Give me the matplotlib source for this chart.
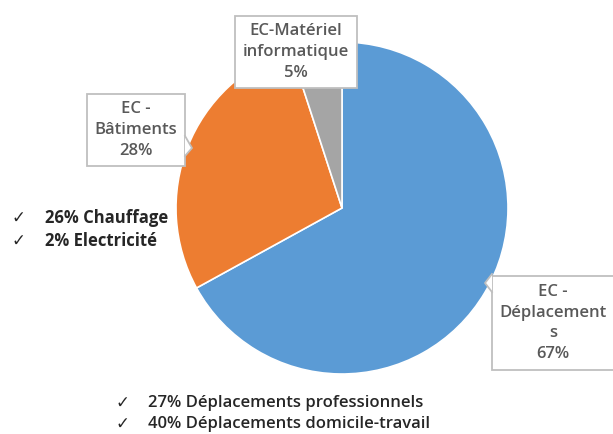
import matplotlib.pyplot as plt
from matplotlib.patches import Polygon
from matplotlib.lines import Line2D

W, H = 613, 434

categories = ["EC - Déplacements", "EC - Bâtiments", "EC-Matériel informatique"]
shares = [67, 28, 5]
colors = ["#5B9BD5", "#ED7D31", "#A5A5A5"]
box_texts = ["EC -\nDéplacement\ns\n67%", "EC -\nBâtiments\n28%", "EC-Matériel\ninformatique\n5%"]
left_notes = ["26% Chauffage", "2% Electricité"]
bottom_notes = ["27% Déplacements professionnels", "40% Déplacements domicile-travail"]

plt.rcParams['font.family'] = ['Open Sans', 'DejaVu Sans']

fig = plt.figure(figsize=(W / 100, H / 100), dpi=100)

# pie centre ~ (342, 208) px, radius ~ 166 px
cx, cy, r = 342, 208, 166
ax = fig.add_axes([(cx - r) / W, (H - cy - r) / H, 2 * r / W, 2 * r / H])
ax.pie(shares, colors=colors, startangle=90, counterclock=False,
       wedgeprops=dict(edgecolor="white", linewidth=1.2))
ax.set_xlim(-1, 1)
ax.set_ylim(-1, 1)
ax.set_aspect("equal")
ax.axis("off")


def px(x, y):
    return x / W, 1 - y / H


box_pos = [(553, 323), (136, 130), (296, 52)]
box_style = dict(boxstyle="square,pad=0.45", facecolor="white", edgecolor="#BFBFBF", linewidth=1.3)
for txt, (x, y) in zip(box_texts, box_pos):
    fig.text(*px(x, y), txt, ha="center", va="center", fontsize=12, color="#595959",
             linespacing=1.4, fontweight="semibold", bbox=box_style, zorder=3)

# little callout pointers on the label boxes
pointers = [[(185, 136), (192, 148), (185, 156)], [(492, 274), (485, 283), (492, 292)]]
for pts in pointers:
    fig.patches.append(Polygon([px(*p) for p in pts], closed=True, facecolor="white",
                               edgecolor="none", transform=fig.transFigure, zorder=4))
    xs, ys = zip(*[px(*p) for p in pts])
    fig.lines.append(Line2D(xs, ys, color="#BFBFBF", linewidth=1.3,
                            transform=fig.transFigure, zorder=5))

for i, note in enumerate(left_notes):
    y = 218 + i * 23
    fig.text(*px(12, y), "\u2713", ha="left", va="center", fontsize=12, family="DejaVu Sans", color="#262626")
    fig.text(*px(45, y), note, ha="left", va="center", fontsize=12, color="#262626", fontweight="bold")

for i, note in enumerate(bottom_notes):
    y = 403 + i * 21
    fig.text(*px(116, y), "\u2713", ha="left", va="center", fontsize=12, family="DejaVu Sans", color="#262626")
    fig.text(*px(148, y), note, ha="left", va="center", fontsize=12, color="#262626", fontweight="semibold")

fig.savefig("out.png", dpi=100)
